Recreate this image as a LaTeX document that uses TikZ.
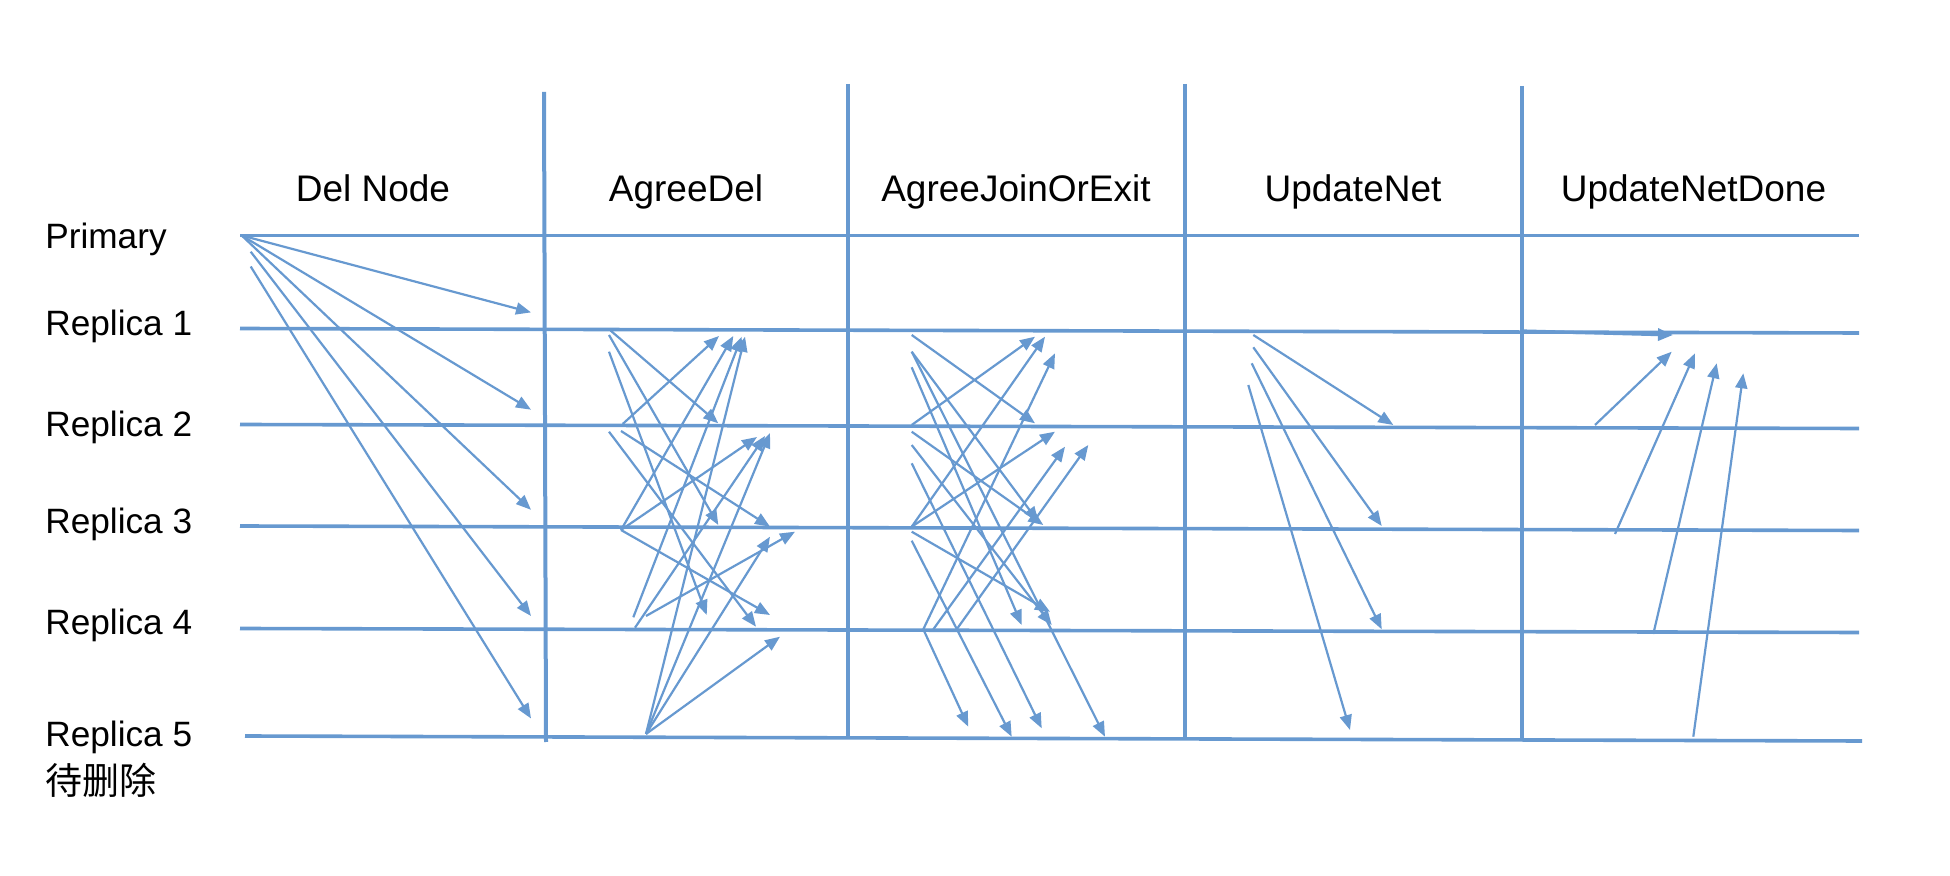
\documentclass[tikz,border=0pt]{standalone}
\usepackage{fontspec}
\setmainfont{Liberation Sans}
\newfontfamily\cjkfont{Noto Sans CJK SC}
\usetikzlibrary{arrows.meta}
\definecolor{lineblue}{HTML}{6799D0}
\begin{document}
\begin{tikzpicture}[x=0.5pt,y=-0.5pt,
  lane/.style={draw=lineblue,line width=1.8pt},
  sepline/.style={draw=lineblue,line width=2pt},
  msg/.style={draw=lineblue,line width=1.1pt,-{Triangle[length=7.5pt,width=6pt]}},
  hdr/.style={anchor=base,inner sep=0pt,font=\fontsize{18.5pt}{22pt}\selectfont},
  lbl/.style={anchor=base west,inner sep=0pt,font=\fontsize{17.6pt}{22pt}\selectfont}]
\useasboundingbox (0,0) rectangle (1950,876);
% headers
\node[hdr] (h1) at (373,201.7) {Del Node};
\node[hdr] (h2) at (686,201.7) {AgreeDel};
\node[hdr] (h3) at (1016,201.7) {AgreeJoinOrExit};
\node[hdr] (h4) at (1353,201.7) {UpdateNet};
\node[hdr] (h5) at (1693.5,201.7) {UpdateNetDone};
% labels
\node[lbl] (lp) at (45,248.5) {Primary};
\node[lbl] (l1) at (45,335.5) {Replica 1};
\node[lbl] (l2) at (45,436.5) {Replica 2};
\node[lbl] (l3) at (45,533.5) {Replica 3};
\node[lbl] (l4) at (45,634.5) {Replica 4};
\node[lbl] (l5) at (45,746.5) {Replica 5};
\node[lbl,font=\fontsize{18.5pt}{22pt}\selectfont\cjkfont] (ld) at (45,794) {待删除};
% lanes
\draw[lane] (240,235.5) -- (1859,235.5);
\draw[lane] (240,328.5) -- (1859,333);
\draw[lane] (240,424.5) -- (1859,428.5);
\draw[lane] (240,526) -- (1859,530.5);
\draw[lane] (240,628.5) -- (1859,632.5);
\draw[lane] (245,736) -- (1862,741);
% separators
\draw[sepline] (544,92) -- (546,742);
\draw[sepline] (848,84) -- (848,738);
\draw[sepline] (1185,84) -- (1185,739);
\draw[sepline] (1521.5,86) -- (1521.5,740);
% Del Node
\draw[msg] (241.7,235.5) -- (531,312.4);
\draw[msg] (241.7,235.5) -- (531,409.7);
\draw[msg] (241.7,235.5) -- (531,509.8);
\draw[msg] (250.7,251.7) -- (531,616);
\draw[msg] (250.7,266.5) -- (531,718.5);
% AgreeDel
\draw[msg] (610.7,330.7) -- (718.3,423.3);
\draw[msg] (609,335) -- (718.3,525);
\draw[msg] (609,351.7) -- (706.7,615);
\draw[msg] (622.7,424) -- (719,336);
\draw[msg] (621,431) -- (770,526.7);
\draw[msg] (609,431.7) -- (756,626.7);
\draw[msg] (621,530) -- (733.3,336);
\draw[msg] (621,530) -- (757,437);
\draw[msg] (621,530) -- (770,615);
\draw[msg] (633.3,617.3) -- (741.7,336.7);
\draw[msg] (635,627.7) -- (765,436);
\draw[msg] (646,616) -- (795,531.7);
\draw[msg] (646,734) -- (745,336.7);
\draw[msg] (646,734) -- (770,433);
\draw[msg] (646,734) -- (770,536.7);
\draw[msg] (646,734) -- (780,636.7);
% AgreeJoinOrExit
\draw[msg] (911.7,335) -- (1035,423.3);
\draw[msg] (911.7,351.7) -- (1038.3,521.7);
\draw[msg] (911.7,351.7) -- (1105,736.7);
\draw[msg] (911.7,367.3) -- (1021.7,625);
\draw[msg] (911.7,425) -- (1035,336.7);
\draw[msg] (911.7,431.7) -- (1043.3,525);
\draw[msg] (911.7,445) -- (1051.7,625);
\draw[msg] (911.7,463.3) -- (1041.7,728.3);
\draw[msg] (911.7,526.7) -- (1045,336.7);
\draw[msg] (911.7,526.7) -- (1055,431.7);
\draw[msg] (911.7,531.7) -- (1050,611.7);
\draw[msg] (911.7,540.7) -- (1011.7,736.7);
\draw[msg] (923.3,629.3) -- (1055,353.3);
\draw[msg] (933.3,629.3) -- (1065,446.7);
\draw[msg] (956.7,629.3) -- (1088.3,445);
\draw[msg] (923.3,629.3) -- (968.3,726.7);
% UpdateNet
\draw[msg] (1253.3,335) -- (1393.3,425);
\draw[msg] (1253.3,347.3) -- (1381.7,526);
\draw[msg] (1251.7,363.3) -- (1381.7,629.3);
\draw[msg] (1248.3,385) -- (1350,730);
% UpdateNetDone
\draw[msg,line width=1.6pt] (1523,331) -- (1673,335);
\draw[msg] (1595,425) -- (1671.7,351.7);
\draw[msg] (1615,534) -- (1695,353.3);
\draw[msg] (1653.3,634) -- (1716.7,363.3);
\draw[msg] (1693.3,736.7) -- (1743.3,373.3);
\end{tikzpicture}
\end{document}
